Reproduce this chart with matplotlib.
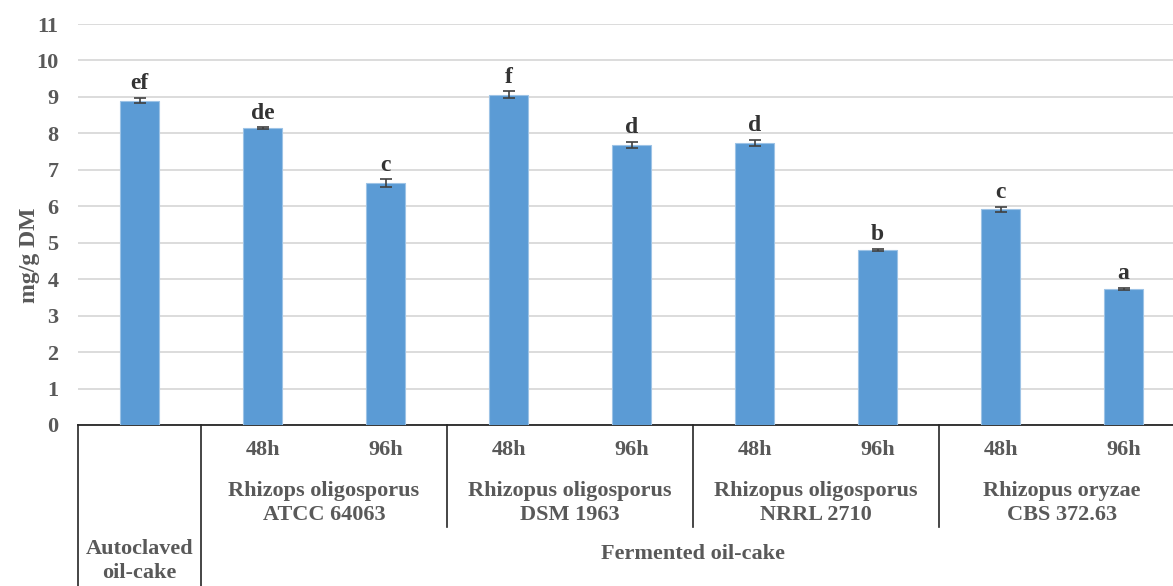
import matplotlib.pyplot as plt
from matplotlib.transforms import blended_transform_factory

# ---- data ----
values = [8.90, 8.15, 6.64, 9.06, 7.68, 7.74, 4.80, 5.92, 3.73]
errors = [0.07, 0.02, 0.10, 0.09, 0.09, 0.08, 0.03, 0.07, 0.04]
letters = ["ef", "de", "c", "f", "d", "d", "b", "c", "a"]
times = ["", "48h", "96h", "48h", "96h", "48h", "96h", "48h", "96h"]
strains = ["Rhizops oligosporus\nATCC 64063", "Rhizopus oligosporus\nDSM 1963",
           "Rhizopus oligosporus\nNRRL 2710", "Rhizopus oryzae\nCBS 372.63"]
groups = ["Autoclaved\noil-cake", "Fermented oil-cake"]

plt.rcParams['font.family'] = ['Liberation Serif', 'DejaVu Serif']
GREY = '#595959'
BAR = '#5B9BD5'
FS = 16

W, H = 1173, 586
fig = plt.figure(figsize=(W / 100, H / 100), dpi=100)

# axes in pixel terms: left 78, right runs past the crop, y0 at 425, y11 at 24
left, right, top, bottom = 78, 1185, 24, 425
ax = fig.add_axes([left / W, (H - bottom) / H, (right - left) / W, (bottom - top) / H])

x = list(range(len(values)))
ax.bar(x, values, width=0.31, color=BAR, edgecolor='#9DC3E6', linewidth=0.8, zorder=3)
ax.errorbar(x, values, yerr=errors, fmt='none', ecolor='#404040', elinewidth=1.2,
            capsize=4, capthick=1.2, zorder=4)
for xi, v, e, s in zip(x, values, errors, letters):
    ax.text(xi, v + e + 0.1, s, ha='center', va='bottom', fontsize=17,
            fontweight='bold', color='#333333')

ax.set_xlim(-0.5, 8.5)
ax.set_ylim(0, 11)
ax.set_yticks(range(0, 12))
ax.set_yticklabels([str(i) for i in range(0, 12)], fontsize=FS, fontweight='bold', color=GREY)
ax.tick_params(axis='y', length=0, pad=14)
ax.set_xticks([])
ax.grid(axis='y', color='#D9D9D9', linewidth=1.3, zorder=0)
for sp in ['top', 'right', 'left']:
    ax.spines[sp].set_visible(False)
ax.spines['bottom'].set_color('#262626')
ax.spines['bottom'].set_linewidth(1.3)

# table-like category axis below the plot
trans = blended_transform_factory(ax.transData, ax.transAxes)
span = bottom - top

def ay(py):
    return (bottom - py) / span

for xv, ybot in [(-0.5, 600), (0.5, 600), (2.5, 527), (4.5, 527), (6.5, 527)]:
    ax.plot([xv, xv], [0, ay(ybot)], transform=trans, color='#262626',
            linewidth=1.2, clip_on=False)

for xi, t in zip(x, times):
    if t:
        ax.text(xi, ay(450), t, transform=trans, ha='center', va='center',
                fontsize=FS, fontweight='bold', color=GREY)
for i, s in enumerate(strains):
    ax.text(1.5 + 2 * i, ay(503), s, transform=trans, ha='center', va='center',
            fontsize=FS, fontweight='bold', color=GREY, linespacing=1.3)
ax.text(0, ay(561), groups[0], transform=trans, ha='center', va='center',
        fontsize=FS, fontweight='bold', color=GREY, linespacing=1.25)
ax.text(4.5, ay(554), groups[1], transform=trans, ha='center', va='center',
        fontsize=FS, fontweight='bold', color=GREY)

fig.text(30 / W, 1 - 255 / H, "mg/g DM", rotation=90, ha='center', va='center',
         fontsize=17, fontweight='bold', color=GREY)

fig.savefig('out.png', dpi=100)
